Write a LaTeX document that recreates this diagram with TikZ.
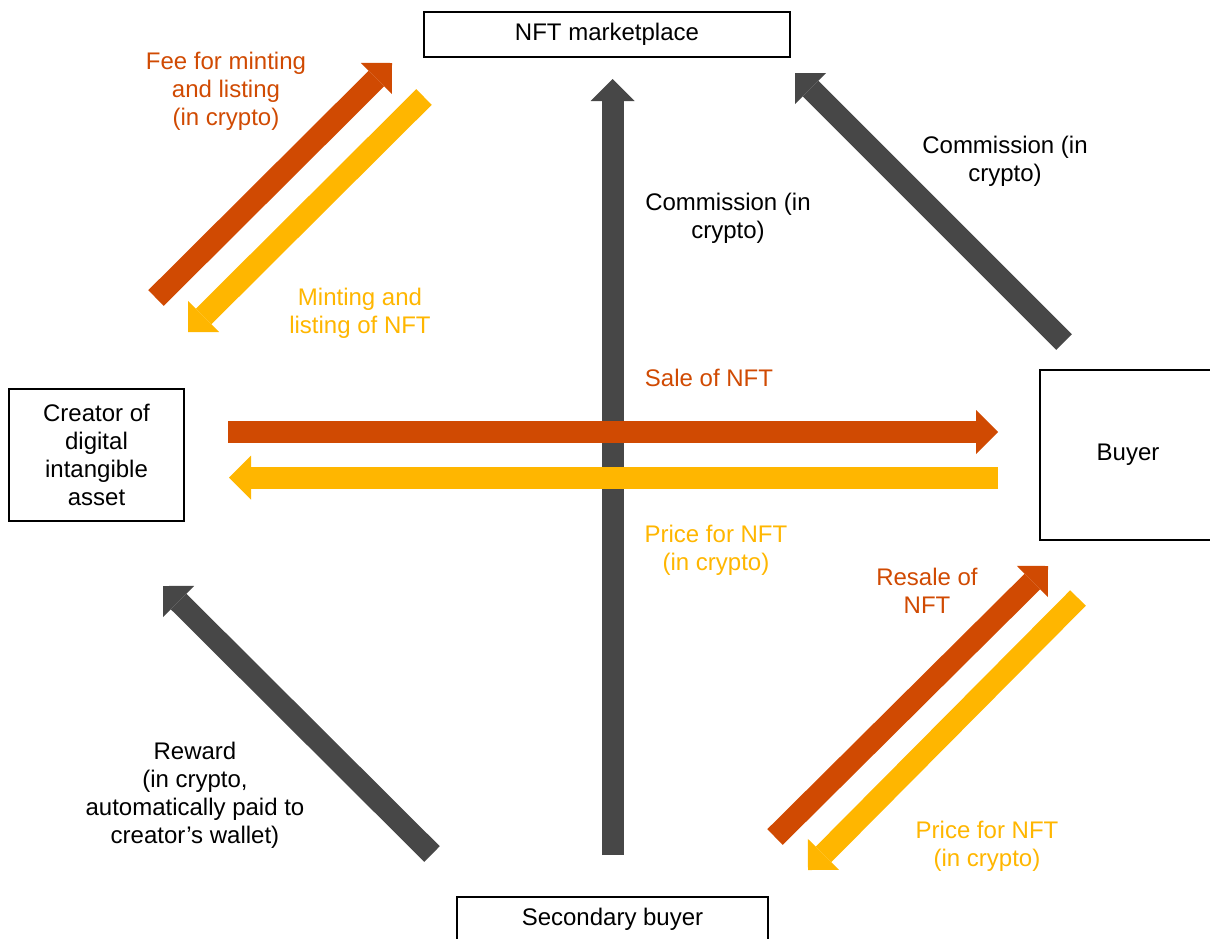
\documentclass[tikz,border=0pt]{standalone}
\usepackage{fontspec}
\setmainfont{Liberation Sans}
\usetikzlibrary{arrows.meta}

\definecolor{nftorange}{RGB}{208,74,2}
\definecolor{nftyellow}{RGB}{255,182,0}
\definecolor{nftgrey}{RGB}{71,71,71}

\begin{document}
\begin{tikzpicture}[
    x=1pt, y=-1pt,
    font=\fontsize{24}{28}\selectfont,
    party/.style={draw, line width=1.6pt, align=center, inner sep=0pt},
    flow/.style={draw=#1, line width=22pt,
                 -{Triangle[length=22pt,width=44pt,line width=0pt]}},
    lbl/.style={align=center, text=#1}
  ]
    \path[use as bounding box, clip] (0,0) rectangle (1210,938);

    % parties
    \node[party, minimum width=366pt, minimum height=45pt] (mkt) at (607,34.5) {NFT marketplace};
    \node[party, minimum width=175pt, minimum height=132pt] (creator) at (96.5,455)
      {Creator of\\digital\\intangible\\asset};
    \node[party, minimum width=176pt, minimum height=170pt] (buyer) at (1128,455) {Buyer};
    \node[party, minimum width=311pt, minimum height=44pt] (second) at (612.5,919) {Secondary buyer};

    % arrow ends
    \coordinate (feeA)    at (156,298);  \coordinate (feeB)    at (392,63);
    \coordinate (mintA)   at (424,97);   \coordinate (mintB)   at (188,332);
    \coordinate (commA)   at (612.5,855);\coordinate (commB)   at (612.5,79);
    \coordinate (comm2A)  at (1064,342); \coordinate (comm2B)  at (795,73);
    \coordinate (saleA)   at (228,432);  \coordinate (saleB)   at (998,432);
    \coordinate (priceA)  at (998,477.5);\coordinate (priceB)  at (229,477.5);
    \coordinate (resaleA) at (775,837);  \coordinate (resaleB) at (1048,566);
    \coordinate (price2A) at (1078,598); \coordinate (price2B) at (808,870);
    \coordinate (rewardA) at (432,854);  \coordinate (rewardB) at (163,586);

    \draw[flow=nftgrey]   (commA)   -- (commB);
    \draw[flow=nftgrey]   (comm2A)  -- (comm2B);
    \draw[flow=nftgrey]   (rewardA) -- (rewardB);
    \draw[flow=nftorange] (feeA)    -- (feeB);
    \draw[flow=nftyellow] (mintA)   -- (mintB);
    \draw[flow=nftorange] (saleA)   -- (saleB);
    \draw[flow=nftyellow] (priceA)  -- (priceB);
    \draw[flow=nftorange] (resaleA) -- (resaleB);
    \draw[flow=nftyellow] (price2A) -- (price2B);

    % labels
    \node[lbl=nftorange] (feeTxt)    at (226,91)  {Fee for minting\\and listing\\(in crypto)};
    \node[lbl=nftyellow] (mintTxt)   at (360,313) {Minting and\\listing of NFT};
    \node[lbl=black]     (commTxt)   at (728,218) {Commission (in\\crypto)};
    \node[lbl=black]     (comm2Txt)  at (1005,161) {Commission (in\\crypto)};
    \node[lbl=nftorange] (saleTxt)   at (709,378) {Sale of NFT};
    \node[lbl=nftyellow] (priceTxt)  at (716,550) {Price for NFT\\(in crypto)};
    \node[lbl=nftorange] (resaleTxt) at (927,591) {Resale of\\NFT};
    \node[lbl=nftyellow] (price2Txt) at (987,846) {Price for NFT\\(in crypto)};
    \node[lbl=black]     (rewardTxt) at (195,795)
      {Reward\\(in crypto,\\automatically paid to\\creator’s wallet)};
  \end{tikzpicture}
\end{document}
